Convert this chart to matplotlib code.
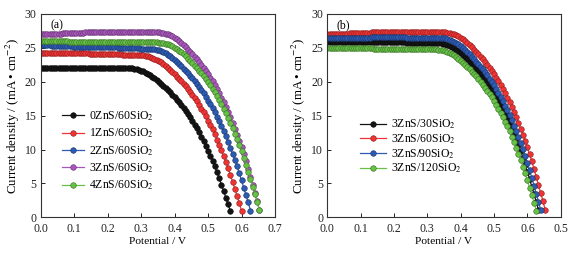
import matplotlib
matplotlib.use("Agg")
import matplotlib.pyplot as plt
import matplotlib.colors as mcolors

plt.rcParams['font.family'] = ['Liberation Serif', 'DejaVu Serif']
plt.rcParams['mathtext.fontset'] = 'stix'

# ---------------- data ----------------
voltage = [0, 0.0067, 0.0133, 0.02, 0.0267, 0.0333, 0.04, 0.0467, 0.0533, 0.06,
           0.0667, 0.0733, 0.08, 0.0867, 0.0933, 0.1, 0.1067, 0.1133, 0.12, 0.1267,
           0.1333, 0.14, 0.1467, 0.1533, 0.16, 0.1667, 0.1733, 0.18, 0.1867, 0.1933,
           0.2, 0.2067, 0.2133, 0.22, 0.2267, 0.2333, 0.24, 0.2467, 0.2533, 0.26,
           0.2667, 0.2733, 0.28, 0.2867, 0.2933, 0.3, 0.3067, 0.3133, 0.32, 0.3267,
           0.3333, 0.34, 0.3467, 0.3533, 0.36, 0.3667, 0.3733, 0.38, 0.3867, 0.3933,
           0.4, 0.4067, 0.4133, 0.42, 0.4267, 0.4333, 0.44, 0.4467, 0.4533, 0.46,
           0.4667, 0.4733, 0.48, 0.4867, 0.4933, 0.5, 0.5067, 0.5133, 0.52, 0.5267,
           0.5333, 0.54, 0.5467, 0.5533, 0.56, 0.5667, 0.5733, 0.58, 0.5867, 0.5933,
           0.6, 0.6067, 0.6133, 0.62, 0.6267, 0.6333, 0.64, 0.6467, 0.6533, 0.66]

# panel (a)
j_0zns_60sio2 = [22.0, 22.0, 22.0, 22.0, 22.0, 22.0, 22.0, 22.0, 22.0, 22.0,
                 22.0, 22.0, 22.0, 22.0, 22.0, 22.0, 22.0, 22.0, 22.0, 22.0,
                 22.0, 22.0, 22.0, 22.0, 22.0, 22.0, 22.0, 22.0, 22.0, 22.0,
                 22.0, 22.0, 22.0, 22.0, 22.0, 22.0, 22.0, 22.0, 22.0, 22.0,
                 21.98, 21.96, 21.91, 21.85, 21.76, 21.65, 21.52, 21.36, 21.19, 20.99,
                 20.77, 20.50, 20.24, 19.95, 19.67, 19.38, 19.07, 18.77, 18.44, 18.11,
                 17.75, 17.38, 16.98, 16.59, 16.15, 15.71, 15.22, 14.74, 14.23, 13.68,
                 13.11, 12.52, 11.90, 11.24, 10.54, 9.83, 9.09, 8.32, 7.50, 6.64,
                 5.74, 4.82, 3.85, 2.88, 1.94, 0.88]

j_1zns_60sio2 = [24.3, 24.3, 24.3, 24.3, 24.3, 24.3, 24.3, 24.2, 24.2, 24.2,
                 24.2, 24.2, 24.2, 24.2, 24.2, 24.2, 24.2, 24.2, 24.2, 24.2,
                 24.2, 24.2, 24.1, 24.1, 24.1, 24.1, 24.1, 24.1, 24.1, 24.1,
                 24.1, 24.1, 24.1, 24.1, 24.1, 24.1, 24.1, 24.0, 24.0, 24.0,
                 24.0, 24.0, 24.0, 24.0, 23.95,
                 23.93, 23.90, 23.85, 23.78, 23.69, 23.57, 23.42, 23.25, 23.06, 22.85,
                 22.61, 22.32, 22.03, 21.72, 21.41, 21.10, 20.76, 20.43, 20.07, 19.71,
                 19.33, 18.92, 18.49, 18.06, 17.58, 17.10, 16.57, 16.05, 15.50, 14.90,
                 14.27, 13.63, 12.96, 12.24, 11.47, 10.71, 9.89, 9.05, 8.17, 7.23,
                 6.25, 5.25, 4.19, 3.14, 2.11, 0.96]

j_2zns_60sio2 = [25.4, 25.4, 25.4, 25.4, 25.4, 25.3, 25.3, 25.3, 25.3, 25.3,
                 25.3, 25.3, 25.3, 25.3, 25.3, 25.2, 25.2, 25.2, 25.2, 25.2,
                 25.2, 25.2, 25.2, 25.2, 25.2, 25.1, 25.1, 25.1, 25.1, 25.1,
                 25.1, 25.1, 25.1, 25.1, 25.1, 25.0, 25.0, 25.0, 25.0, 25.0,
                 25.0, 25.0, 25.0, 25.0, 25.0, 24.9, 24.9, 24.9, 24.9,
                 24.88, 24.85, 24.80, 24.73, 24.63, 24.50, 24.35, 24.18, 23.98, 23.75,
                 23.51, 23.21, 22.91, 22.58, 22.26, 21.94, 21.59, 21.24, 20.87, 20.49,
                 20.09, 19.67, 19.22, 18.77, 18.28, 17.78, 17.23, 16.68, 16.11, 15.49,
                 14.84, 14.17, 13.47, 12.72, 11.93, 11.13, 10.28, 9.41, 8.49, 7.52,
                 6.50, 5.45, 4.36, 3.26, 2.19, 1.00]

j_3zns_60sio2 = [27.1, 27.1, 27.1, 27.1, 27.1, 27.1, 27.1, 27.1, 27.1, 27.1,
                 27.2, 27.2, 27.2, 27.2, 27.2, 27.2, 27.2, 27.2, 27.2, 27.2,
                 27.3, 27.3, 27.3, 27.3, 27.3, 27.3, 27.3, 27.3, 27.3, 27.3,
                 27.3, 27.3, 27.3, 27.3, 27.3, 27.3, 27.3, 27.3, 27.3, 27.3,
                 27.3, 27.3, 27.3, 27.3, 27.3, 27.3, 27.3, 27.3, 27.3, 27.3,
                 27.3, 27.3, 27.3,
                 27.27, 27.25, 27.19, 27.11, 27.00, 26.86, 26.70, 26.51, 26.29, 26.04,
                 25.77, 25.44, 25.12, 24.76, 24.41, 24.05, 23.67, 23.29, 22.88, 22.47,
                 22.03, 21.57, 21.08, 20.58, 20.04, 19.49, 18.89, 18.29, 17.66, 16.98,
                 16.27, 15.53, 14.77, 13.95, 13.08, 12.20, 11.27, 10.32, 9.31, 8.24,
                 7.13, 5.98, 4.78, 3.58, 2.40, 1.09]

j_4zns_60sio2 = [26.0, 26.0, 26.0, 26.0, 26.0, 26.0, 26.0, 26.0, 26.0, 26.0,
                 26.0, 26.0, 26.0, 25.9, 25.9, 25.9, 25.9, 25.9, 25.9, 25.9,
                 25.9, 25.9, 25.9, 25.9, 25.9, 25.9, 25.9, 25.9, 25.9, 25.9,
                 25.9, 25.8, 25.8, 25.8, 25.8, 25.8, 25.8, 25.8, 25.8, 25.8,
                 25.8, 25.8, 25.8, 25.8, 25.8, 25.8, 25.8, 25.8, 25.8, 25.8,
                 25.8, 25.8, 25.8,
                 25.77, 25.75, 25.70, 25.62, 25.52, 25.39, 25.23, 25.05, 24.85, 24.61,
                 24.36, 24.05, 23.74, 23.40, 23.07, 22.73, 22.37, 22.01, 21.62, 21.23,
                 20.82, 20.38, 19.92, 19.45, 18.94, 18.42, 17.85, 17.29, 16.69, 16.05,
                 15.38, 14.68, 13.96, 13.18, 12.36, 11.53, 10.66, 9.75, 8.80, 7.79,
                 6.73, 5.65, 4.52, 3.38, 2.27, 1.03]

# panel (b)
j_3zns_30sio2 = [25.9, 25.9, 25.9, 25.9, 25.9, 25.9, 25.9, 25.9, 25.9, 25.9,
                 25.9, 25.9, 25.9, 25.9, 25.9, 25.9, 25.8, 25.8, 25.8, 25.8,
                 25.8, 25.8, 25.8, 25.8, 25.8, 25.8, 25.8, 25.8, 25.8, 25.8,
                 25.8, 25.8, 25.8, 25.8, 25.8, 25.8, 25.7, 25.7, 25.7, 25.7,
                 25.7, 25.7, 25.7, 25.7, 25.7, 25.7, 25.7, 25.7, 25.7, 25.7,
                 25.67, 25.65, 25.60, 25.52, 25.42, 25.29, 25.13, 24.95, 24.75, 24.52,
                 24.26, 23.95, 23.64, 23.31, 22.98, 22.64, 22.28, 21.92, 21.54, 21.15,
                 20.74, 20.30, 19.84, 19.38, 18.86, 18.35, 17.78, 17.22, 16.63, 15.99,
                 15.32, 14.62, 13.90, 13.13, 12.31, 11.49, 10.61, 9.71, 8.76, 7.76,
                 6.71, 5.63, 4.50, 3.37, 2.26, 1.03]

j_3zns_60sio2_b = j_3zns_60sio2  # same sample as in panel (a)

j_3zns_90sio2 = [26.5, 26.5, 26.5, 26.5, 26.5, 26.5, 26.5, 26.5, 26.5, 26.5,
                 26.5, 26.5, 26.5, 26.5, 26.5, 26.5, 26.5, 26.5, 26.5, 26.5,
                 26.6, 26.6, 26.6, 26.6, 26.6, 26.6, 26.6, 26.6, 26.6, 26.6,
                 26.6, 26.6, 26.6, 26.6, 26.6, 26.6, 26.5, 26.5, 26.5, 26.5,
                 26.5, 26.5, 26.5, 26.5, 26.5, 26.5, 26.5, 26.5, 26.5, 26.5,
                 26.5,
                 26.47, 26.45, 26.39, 26.31, 26.21, 26.08, 25.92, 25.73, 25.52, 25.28,
                 25.02, 24.70, 24.38, 24.04, 23.69, 23.35, 22.98, 22.60, 22.21, 21.81,
                 21.39, 20.94, 20.46, 19.98, 19.45, 18.92, 18.34, 17.76, 17.15, 16.48,
                 15.79, 15.08, 14.34, 13.54, 12.69, 11.85, 10.94, 10.02, 9.04, 8.00,
                 6.92, 5.80, 4.64, 3.47, 2.33, 1.06]

j_3zns_120sio2 = [25.0, 25.0, 25.0, 25.0, 25.0, 25.0, 25.0, 25.0, 25.0, 25.0,
                  25.0, 25.0, 25.0, 25.0, 25.0, 25.0, 25.0, 25.0, 25.0, 25.0,
                  25.0, 24.9, 24.9, 24.9, 24.9, 24.9, 24.9, 24.9, 24.9, 24.9,
                  24.9, 24.9, 24.9, 24.9, 24.9, 24.9, 24.9, 24.9, 24.9, 24.8,
                  24.8, 24.8, 24.8, 24.8, 24.8, 24.8, 24.8, 24.8, 24.8,
                  24.78, 24.75, 24.70, 24.63, 24.53, 24.40, 24.25, 24.08, 23.88, 23.66,
                  23.41, 23.11, 22.82, 22.49, 22.17, 21.85, 21.50, 21.15, 20.78, 20.41,
                  20.01, 19.59, 19.15, 18.70, 18.20, 17.71, 17.16, 16.62, 16.05, 15.42,
                  14.78, 14.11, 13.42, 12.67, 11.88, 11.09, 10.24, 9.37, 8.46, 7.49,
                  6.47, 5.43, 4.34, 3.25, 2.18, 0.99]

labels_a = ["0ZnS/60SiO$_2$", "1ZnS/60SiO$_2$", "2ZnS/60SiO$_2$",
            "3ZnS/60SiO$_2$", "4ZnS/60SiO$_2$"]
labels_b = ["3ZnS/30SiO$_2$", "3ZnS/60SiO$_2$", "3ZnS/90SiO$_2$",
            "3ZnS/120SiO$_2$"]

x_ticks = [0.0, 0.1, 0.2, 0.3, 0.4, 0.5, 0.6, 0.7]
x_ticklabels_a = ["0.0", "0.1", "0.2", "0.3", "0.4", "0.5", "0.6", "0.7"]
x_ticklabels_b = ["0.0", "0.1", "0.2", "0.3", "0.4", "0.5", "0.6", "0.5"]
y_ticks = [0, 5, 10, 15, 20, 25, 30]

# ---------------- style ----------------
c_black = "#141414"
c_red = "#f03434"
c_blue = "#2d5bb3"
c_purple = "#a857bc"
c_green = "#66c146"

series_a = [j_0zns_60sio2, j_1zns_60sio2, j_2zns_60sio2, j_3zns_60sio2, j_4zns_60sio2]
colors_a = [c_black, c_red, c_blue, c_purple, c_green]
series_b = [j_3zns_30sio2, j_3zns_60sio2_b, j_3zns_90sio2, j_3zns_120sio2]
colors_b = [c_black, c_red, c_blue, c_green]

fs = 8.5
fig = plt.figure(figsize=(5.77, 2.54), dpi=100)
ax_a = fig.add_axes([0.0705, 0.1445, 0.4061, 0.8004])
ax_b = fig.add_axes([0.5672, 0.1445, 0.4046, 0.8004])


def darker(c, f=0.6):
    r, g, b = mcolors.to_rgb(c)
    return (r * f, g * f, b * f)


def draw(ax, series, colors, labels):
    for j, c, lab in zip(series, colors, labels):
        ax.plot(voltage[:len(j)], j, color=c, lw=0.9, marker='o', ms=4.0,
                mfc=c, mec=darker(c), mew=0.45, label=lab)
    ax.set_xlim(0, 0.7)
    ax.set_ylim(0, 30)
    ax.set_yticks(y_ticks)
    ax.tick_params(direction='in', length=3, width=0.7, labelsize=fs,
                   colors='#222222')
    ax.tick_params(axis='x', pad=4)
    ax.tick_params(axis='y', pad=3)
    for s in ax.spines.values():
        s.set_linewidth(0.8)
        s.set_color('#333333')
    ax.set_xlabel("Potential / V", fontsize=8.2, labelpad=1.5)
    ax.set_ylabel("Current density / (mA\u2009\u2022\u2009cm$^{-2}$)",
                  fontsize=9.3, labelpad=2)


draw(ax_a, series_a, colors_a, labels_a)
ax_a.set_xticks(x_ticks)
ax_a.set_xticklabels(x_ticklabels_a)
ax_a.text(0.04, 0.975, "(a)", transform=ax_a.transAxes, fontsize=fs,
          va='top', ha='left')
ax_a.legend(loc='upper left', bbox_to_anchor=(0.09, 0.53), frameon=False,
            fontsize=fs, handlelength=1.9, handletextpad=0.4,
            labelspacing=0.32, borderpad=0, borderaxespad=0)

draw(ax_b, series_b, colors_b, labels_b)
ax_b.set_xticks(x_ticks)
ax_b.set_xticklabels(x_ticklabels_b)
ax_b.text(0.04, 0.975, "(b)", transform=ax_b.transAxes, fontsize=fs,
          va='top', ha='left')
ax_b.legend(loc='upper left', bbox_to_anchor=(0.14, 0.49), frameon=False,
            fontsize=fs, handlelength=2.2, handletextpad=0.4,
            labelspacing=0.1, borderpad=0, borderaxespad=0)

fig.savefig("out.png", dpi=100)
